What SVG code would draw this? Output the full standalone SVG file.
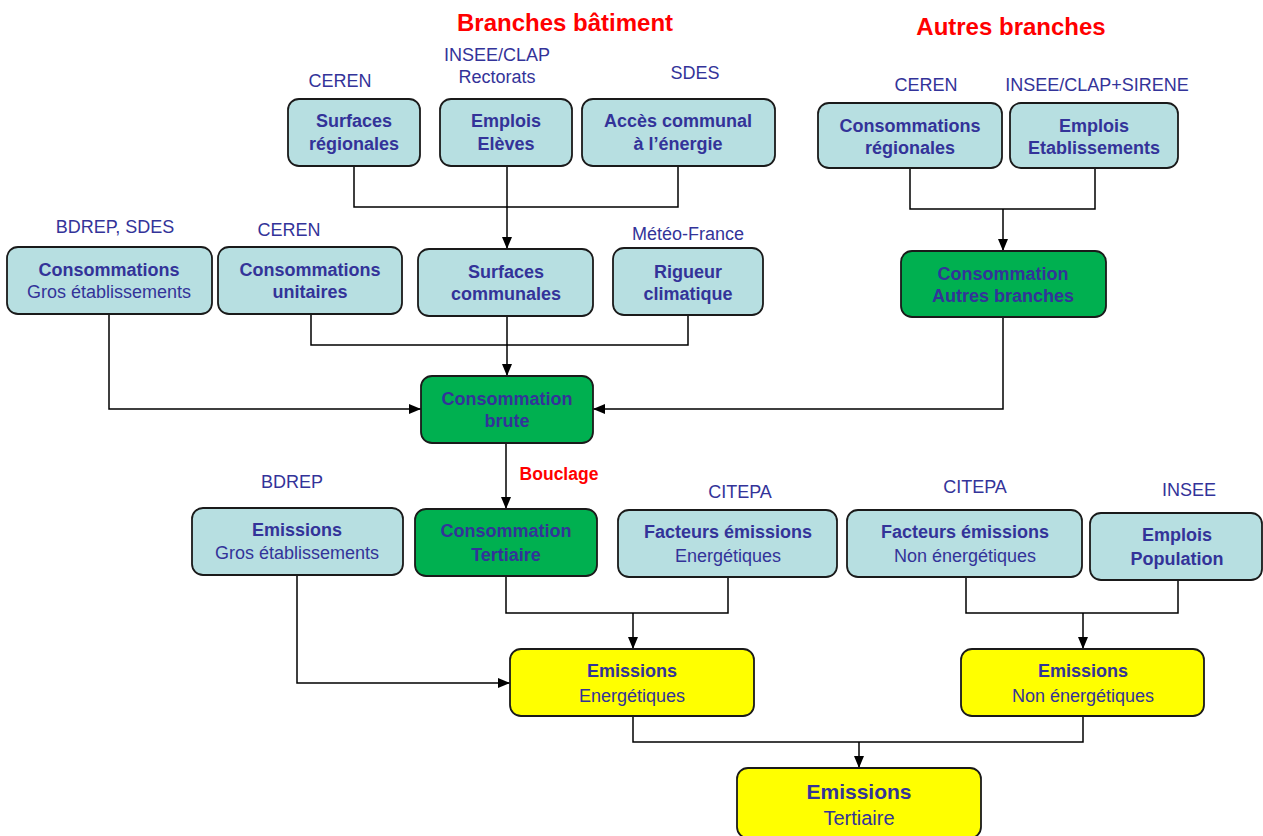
<svg xmlns="http://www.w3.org/2000/svg" width="1263" height="836" viewBox="0 0 1263 836">
<style>
text{font-family:"Liberation Sans",Arial,sans-serif;fill:#333399;text-anchor:middle}
.b{font-weight:bold;font-size:18px}
.n{font-size:18px}
.src{font-size:18px}
.big{font-weight:bold;font-size:21px}
.bign{font-size:20px}
.title{font-size:24px;font-weight:bold;fill:#FF0000}
.red{font-size:17.5px;font-weight:bold;fill:#FF0000}
.box{stroke:#1a1a1a;stroke-width:1.8}
.teal{fill:#B7DFE1}
.green{fill:#00B050}
.yellow{fill:#FFFF00}
.c{fill:none;stroke:#000;stroke-width:1.5}
</style>
<defs>
<marker id="ar" viewBox="0 0 12 10" refX="12" refY="5" markerWidth="12" markerHeight="10" markerUnits="userSpaceOnUse" orient="auto">
<path d="M0,0 L12,5 L0,10 z" fill="#000"/>
</marker>
</defs>
<rect width="1263" height="836" fill="#fff"/>
<text class="title" x="565" y="31">Branches bâtiment</text>
<text class="title" x="1011" y="35">Autres branches</text>

<g id="sources">
<text class="src" x="340" y="87">CEREN</text>
<text class="src" x="497" y="61">INSEE/CLAP</text>
<text class="src" x="497" y="83">Rectorats</text>
<text class="src" x="695" y="79">SDES</text>
<text class="src" x="926" y="91">CEREN</text>
<text class="src" x="1097" y="91">INSEE/CLAP+SIRENE</text>
<text class="src" x="115" y="233">BDREP, SDES</text>
<text class="src" x="289" y="236">CEREN</text>
<text class="src" x="688" y="240">Météo-France</text>
<text class="src" x="292" y="488">BDREP</text>
<text class="red" x="559" y="480">Bouclage</text>
<text class="src" x="740" y="498">CITEPA</text>
<text class="src" x="975" y="493">CITEPA</text>
<text class="src" x="1189" y="496">INSEE</text>
</g>

<g id="connectors">
<path class="c" d="M354,166 V207 H678 V166"/>
<path class="c" d="M507,166 V249" marker-end="url(#ar)"/>
<path class="c" d="M910,168 V209 H1095 V168"/>
<path class="c" d="M1003,209 V251" marker-end="url(#ar)"/>
<path class="c" d="M311,314 V345 H688 V315"/>
<path class="c" d="M507,316 V376" marker-end="url(#ar)"/>
<path class="c" d="M109,314 V409 H421" marker-end="url(#ar)"/>
<path class="c" d="M1003,317 V409 H593" marker-end="url(#ar)"/>
<path class="c" d="M506,443 V509" marker-end="url(#ar)"/>
<path class="c" d="M506,576 V613 H728 V577"/>
<path class="c" d="M633,613 V649" marker-end="url(#ar)"/>
<path class="c" d="M966,577 V613 H1178 V580"/>
<path class="c" d="M1083,613 V649" marker-end="url(#ar)"/>
<path class="c" d="M297,575 V683 H510" marker-end="url(#ar)"/>
<path class="c" d="M633,716 V742 H1083 V716"/>
<path class="c" d="M859,742 V768" marker-end="url(#ar)"/>
</g>

<g id="n-surf-reg"><rect class="box teal" x="288" y="99" width="132" height="67" rx="11"/>
<text class="b" x="354" y="127">Surfaces</text><text class="b" x="354" y="150">régionales</text></g>
<g id="n-emplois-eleves"><rect class="box teal" x="440" y="99" width="132" height="67" rx="11"/>
<text class="b" x="506" y="127">Emplois</text><text class="b" x="506" y="150">Elèves</text></g>
<g id="n-acces"><rect class="box teal" x="582" y="99" width="193" height="67" rx="11"/>
<text class="b" x="678" y="127">Accès communal</text><text class="b" x="678" y="150">à l’énergie</text></g>
<g id="n-conso-reg"><rect class="box teal" x="818" y="103" width="184" height="65" rx="11"/>
<text class="b" x="910" y="132">Consommations</text><text class="b" x="910" y="154">régionales</text></g>
<g id="n-emplois-etab"><rect class="box teal" x="1010" y="103" width="168" height="65" rx="11"/>
<text class="b" x="1094" y="132">Emplois</text><text class="b" x="1094" y="154">Etablissements</text></g>
<g id="n-conso-autres"><rect class="box green" x="901" y="251" width="205" height="66" rx="11"/>
<text class="b" x="1003" y="280">Consommation</text><text class="b" x="1003" y="302">Autres  branches</text></g>
<g id="n-conso-gros"><rect class="box teal" x="7" y="247" width="205" height="67" rx="11"/>
<text class="b" x="109" y="276">Consommations</text><text class="n" x="109" y="298">Gros établissements</text></g>
<g id="n-conso-unit"><rect class="box teal" x="218" y="247" width="184" height="67" rx="11"/>
<text class="b" x="310" y="276">Consommations</text><text class="b" x="310" y="298">unitaires</text></g>
<g id="n-surf-comm"><rect class="box teal" x="418" y="249" width="175" height="67" rx="11"/>
<text class="b" x="506" y="278">Surfaces</text><text class="b" x="506" y="300">communales</text></g>
<g id="n-rigueur"><rect class="box teal" x="613" y="248" width="150" height="67" rx="11"/>
<text class="b" x="688" y="278">Rigueur</text><text class="b" x="688" y="300">climatique</text></g>
<g id="n-conso-brute"><rect class="box green" x="421" y="376" width="172" height="67" rx="11"/>
<text class="b" x="507" y="405">Consommation</text><text class="b" x="507" y="427">brute</text></g>
<g id="n-em-gros"><rect class="box teal" x="192" y="508" width="211" height="67" rx="11"/>
<text class="b" x="297" y="536">Emissions</text><text class="n" x="297" y="559">Gros établissements</text></g>
<g id="n-conso-tert"><rect class="box green" x="415" y="509" width="182" height="67" rx="11"/>
<text class="b" x="506" y="537">Consommation</text><text class="b" x="506" y="561">Tertiaire</text></g>
<g id="n-fe-en"><rect class="box teal" x="618" y="510" width="219" height="67" rx="11"/>
<text class="b" x="728" y="538">Facteurs émissions</text><text class="n" x="728" y="562">Energétiques</text></g>
<g id="n-fe-nonen"><rect class="box teal" x="847" y="510" width="235" height="67" rx="11"/>
<text class="b" x="965" y="538">Facteurs émissions</text><text class="n" x="965" y="562">Non énergétiques</text></g>
<g id="n-emplois-pop"><rect class="box teal" x="1090" y="513" width="172" height="67" rx="11"/>
<text class="b" x="1177" y="541">Emplois</text><text class="b" x="1177" y="565">Population</text></g>
<g id="n-em-en"><rect class="box yellow" x="510" y="649" width="244" height="67" rx="11"/>
<text class="b" x="632" y="677">Emissions</text><text class="n" x="632" y="702">Energétiques</text></g>
<g id="n-em-nonen"><rect class="box yellow" x="961" y="649" width="243" height="67" rx="11"/>
<text class="b" x="1083" y="677">Emissions</text><text class="n" x="1083" y="702">Non énergétiques</text></g>
<g id="n-em-tert"><rect class="box yellow" x="737" y="768" width="244" height="70" rx="11"/>
<text class="big" x="859" y="799">Emissions</text><text class="bign" x="859" y="825">Tertiaire</text></g>
</svg>
